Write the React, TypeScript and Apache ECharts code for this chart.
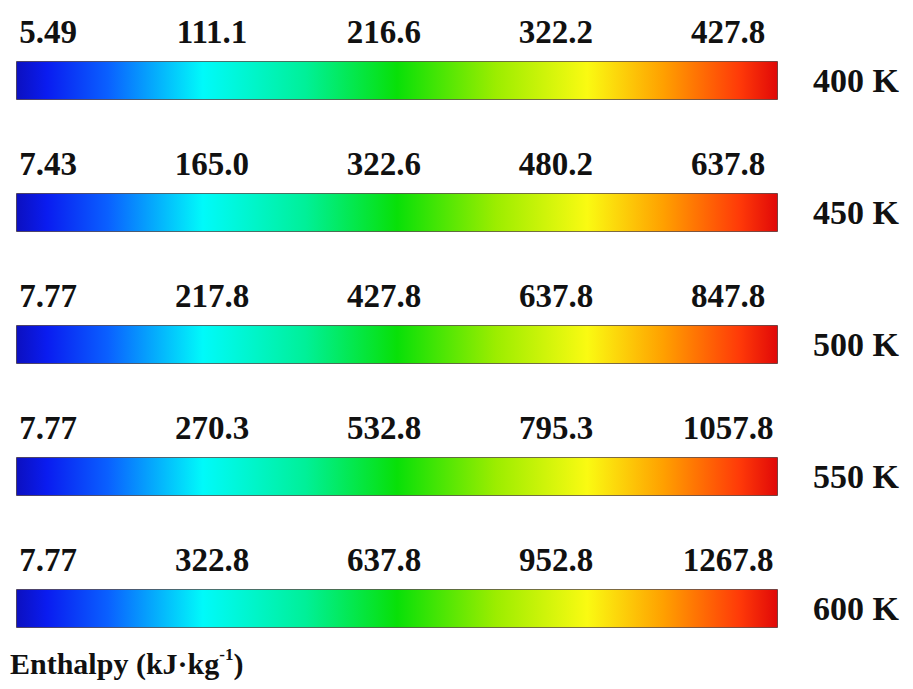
import React, { useEffect, useRef } from "react";
import * as echarts from "echarts";

// Temperature labels (one colour bar per temperature)
const TEMPERATURES = ["400 K", "450 K", "500 K", "550 K", "600 K"];

// Enthalpy tick values (kJ/kg) per colour bar
const TICKS_400 = [5.49, 111.1, 216.6, 322.2, 427.8];
const TICKS_450 = [7.43, 165.0, 322.6, 480.2, 637.8];
const TICKS_500 = [7.77, 217.8, 427.8, 637.8, 847.8];
const TICKS_550 = [7.77, 270.3, 532.8, 795.3, 1057.8];
const TICKS_600 = [7.77, 322.8, 637.8, 952.8, 1267.8];

const ALL_TICKS = [TICKS_400, TICKS_450, TICKS_500, TICKS_550, TICKS_600];

const TITLE = "Enthalpy (kJ·kg";
const TITLE_SUP = "-1";

const FONT = "Liberation Serif, Times New Roman, serif";

const JET = [
  { offset: 0, color: "#0c10c0" },
  { offset: 0.04, color: "#0a1cf0" },
  { offset: 0.12, color: "#0a60ff" },
  { offset: 0.245, color: "#00fafa" },
  { offset: 0.38, color: "#00f098" },
  { offset: 0.5, color: "#08e008" },
  { offset: 0.63, color: "#9ced00" },
  { offset: 0.75, color: "#fafa12" },
  { offset: 0.85, color: "#ffa000" },
  { offset: 0.95, color: "#ff3a08" },
  { offset: 1, color: "#e00808" },
];

function fmt(v: number): string {
  return v < 10 ? v.toFixed(2) : v.toFixed(1);
}

export default function App() {
  const ref = useRef<HTMLDivElement>(null);

  useEffect(() => {
    if (!ref.current) return;
    const chart = echarts.init(ref.current, undefined, { renderer: "svg" });

    const ROW0 = 61;
    const STEP = 132;
    const BAR_H = 39;
    const TICK_FS = 33;

    const grids: any[] = [];
    const xAxes: any[] = [];
    const yAxes: any[] = [];
    const series: any[] = [];

    ALL_TICKS.forEach((ticks, i) => {
      const lo = ticks[0];
      const hi = ticks[ticks.length - 1];
      const top = ROW0 + STEP * i;

      // colour-bar grid
      const gBar = grids.length;
      grids.push({ left: 16, width: 762, top, height: BAR_H, containLabel: false });
      xAxes.push({
        type: "value",
        gridIndex: gBar,
        min: lo,
        max: hi,
        axisLine: { show: false },
        axisTick: { show: false },
        axisLabel: { show: false },
        splitLine: { show: false },
      });
      yAxes.push({
        type: "category",
        gridIndex: gBar,
        position: "right",
        data: [TEMPERATURES[i]],
        axisLine: { show: false },
        axisTick: { show: false },
        splitLine: { show: false },
        axisLabel: {
          show: true,
          margin: 35,
          color: "#111",
          fontFamily: FONT,
          fontWeight: "bold",
          fontSize: 34,
        },
      });
      const axisIdx = xAxes.length - 1;
      series.push({
        type: "bar",
        xAxisIndex: axisIdx,
        yAxisIndex: axisIdx,
        stack: "s" + i,
        data: [lo],
        barWidth: "100%",
        itemStyle: { color: "rgba(0,0,0,0)" },
        silent: true,
      });
      series.push({
        type: "bar",
        xAxisIndex: axisIdx,
        yAxisIndex: axisIdx,
        stack: "s" + i,
        data: [hi - lo],
        barWidth: "100%",
        itemStyle: {
          color: { type: "linear", x: 0, y: 0, x2: 1, y2: 0, colorStops: JET },
          borderColor: "rgba(40,20,20,0.6)",
          borderWidth: 1,
        },
      });

      // tick-label grid
      const gLab = grids.length;
      grids.push({ left: 40, width: 688, top: top - 30, height: 1 });
      xAxes.push({
        type: "value",
        gridIndex: gLab,
        min: lo,
        max: hi,
        position: "bottom",
        axisLine: { show: false },
        axisTick: { show: false },
        splitLine: { show: false },
        axisLabel: {
          show: true,
          customValues: ticks,
          margin: 0,
          verticalAlign: "middle",
          color: "#111",
          fontFamily: FONT,
          fontWeight: "bold",
          fontSize: TICK_FS,
          formatter: (v: number) => {
            const s = fmt(v);
            return v === lo ? "{f|" + s + "}" : "{n|" + s + "}";
          },
          rich: {
            f: {
              padding: [0, 0, 0, 16],
              color: "#111",
              fontFamily: FONT,
              fontWeight: "bold",
              fontSize: TICK_FS,
            },
            n: {
              color: "#111",
              fontFamily: FONT,
              fontWeight: "bold",
              fontSize: TICK_FS,
            },
          },
        },
      });
      yAxes.push({
        type: "category",
        gridIndex: gLab,
        data: [""],
        show: false,
      });
    });

    chart.setOption({
      animation: false,
      backgroundColor: "#ffffff",
      title: {
        left: 10,
        top: 646,
        padding: 0,
        text: "{a|" + TITLE + "}{s|" + TITLE_SUP + "}{a|)}",
        textStyle: {
          rich: {
            a: {
              fontFamily: FONT,
              fontWeight: "bold",
              fontSize: 30,
              lineHeight: 34,
              color: "#111",
            },
            s: {
              fontFamily: FONT,
              fontWeight: "bold",
              fontSize: 17,
              lineHeight: 17,
              verticalAlign: "top",
              color: "#111",
            },
          },
        },
      },
      grid: grids,
      xAxis: xAxes,
      yAxis: yAxes,
      series,
    });

    return () => chart.dispose();
  }, []);

  return (
    <div
      ref={ref}
      style={{ position: "fixed", left: 0, top: 0, width: 913, height: 689 }}
    />
  );
}
